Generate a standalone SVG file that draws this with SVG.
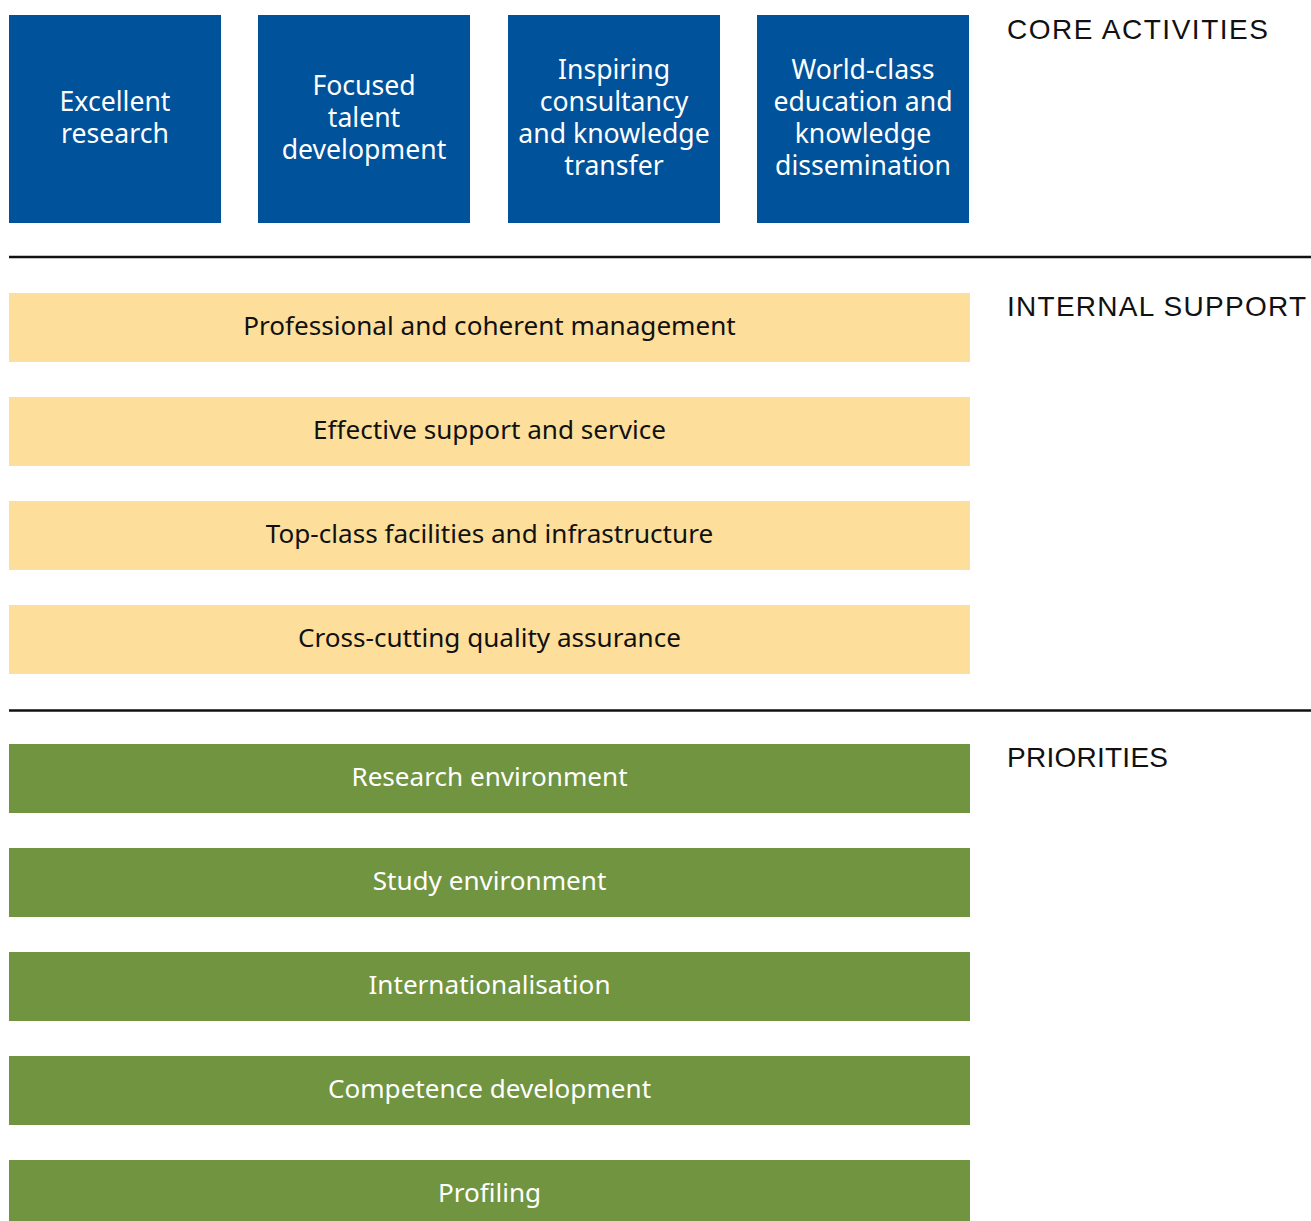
<svg xmlns="http://www.w3.org/2000/svg" width="1311" height="1221" viewBox="0 0 1311 1221">
  <style>
    .core { fill: #00529b; }
    .support { fill: #fddf9b; }
    .prio { fill: #70943f; }
    .t { font-family: "Noto Sans", "Open Sans", sans-serif; font-size: 26.6px; text-anchor: middle; }
    .bar { font-size: 26.1px; }
    .tw { fill: #ffffff; }
    .tk { fill: #111111; }
    .head { font-family: "Liberation Sans", "DejaVu Sans", sans-serif; font-size: 28px; fill: #111111; }
    .rule { stroke: #111111; stroke-width: 2.5; }
  </style>
  <rect width="1311" height="1221" fill="#ffffff"/>

  <!-- section headings -->
  <text class="head" x="1007" y="39" textLength="261" lengthAdjust="spacing">CORE ACTIVITIES</text>
  <text class="head" x="1007" y="316" textLength="299" lengthAdjust="spacing">INTERNAL SUPPORT</text>
  <text class="head" x="1007" y="767" textLength="161" lengthAdjust="spacing">PRIORITIES</text>

  <!-- section dividers -->
  <g id="connectors">
    <line class="rule" x1="9" y1="257" x2="1311" y2="257"/>
    <line class="rule" x1="9" y1="710.5" x2="1311" y2="710.5"/>
  </g>

  <!-- core activities -->
  <g id="core-research">
    <rect class="core" x="9" y="15" width="212" height="208"/>
    <text class="t tw" x="115" y="111">Excellent</text>
    <text class="t tw" x="115" y="143">research</text>
  </g>
  <g id="core-talent">
    <rect class="core" x="258" y="15" width="212" height="208"/>
    <text class="t tw" x="364" y="95">Focused</text>
    <text class="t tw" x="364" y="127">talent</text>
    <text class="t tw" x="364" y="159">development</text>
  </g>
  <g id="core-consultancy">
    <rect class="core" x="508" y="15" width="212" height="208"/>
    <text class="t tw" x="614" y="79">Inspiring</text>
    <text class="t tw" x="614" y="111">consultancy</text>
    <text class="t tw" x="614" y="143">and knowledge</text>
    <text class="t tw" x="614" y="175">transfer</text>
  </g>
  <g id="core-education">
    <rect class="core" x="757" y="15" width="212" height="208"/>
    <text class="t tw" x="863" y="79">World-class</text>
    <text class="t tw" x="863" y="111">education and</text>
    <text class="t tw" x="863" y="143">knowledge</text>
    <text class="t tw" x="863" y="175">dissemination</text>
  </g>

  <!-- internal support -->
  <g id="support-management">
    <rect class="support" x="9" y="293" width="961" height="69"/>
    <text class="t bar tk" x="489.5" y="335">Professional and coherent management</text>
  </g>
  <g id="support-service">
    <rect class="support" x="9" y="397" width="961" height="69"/>
    <text class="t bar tk" x="489.5" y="439">Effective support and service</text>
  </g>
  <g id="support-facilities">
    <rect class="support" x="9" y="501" width="961" height="69"/>
    <text class="t bar tk" x="489.5" y="543">Top-class facilities and infrastructure</text>
  </g>
  <g id="support-quality">
    <rect class="support" x="9" y="605" width="961" height="69"/>
    <text class="t bar tk" x="489.5" y="647">Cross-cutting quality assurance</text>
  </g>

  <!-- priorities -->
  <g id="prio-research">
    <rect class="prio" x="9" y="744" width="961" height="69"/>
    <text class="t bar tw" x="489.5" y="786">Research environment</text>
  </g>
  <g id="prio-study">
    <rect class="prio" x="9" y="848" width="961" height="69"/>
    <text class="t bar tw" x="489.5" y="890">Study environment</text>
  </g>
  <g id="prio-international">
    <rect class="prio" x="9" y="952" width="961" height="69"/>
    <text class="t bar tw" x="489.5" y="994">Internationalisation</text>
  </g>
  <g id="prio-competence">
    <rect class="prio" x="9" y="1056" width="961" height="69"/>
    <text class="t bar tw" x="489.5" y="1098">Competence development</text>
  </g>
  <g id="prio-profiling">
    <rect class="prio" x="9" y="1160" width="961" height="69"/>
    <text class="t bar tw" x="489.5" y="1202">Profiling</text>
  </g>
</svg>
